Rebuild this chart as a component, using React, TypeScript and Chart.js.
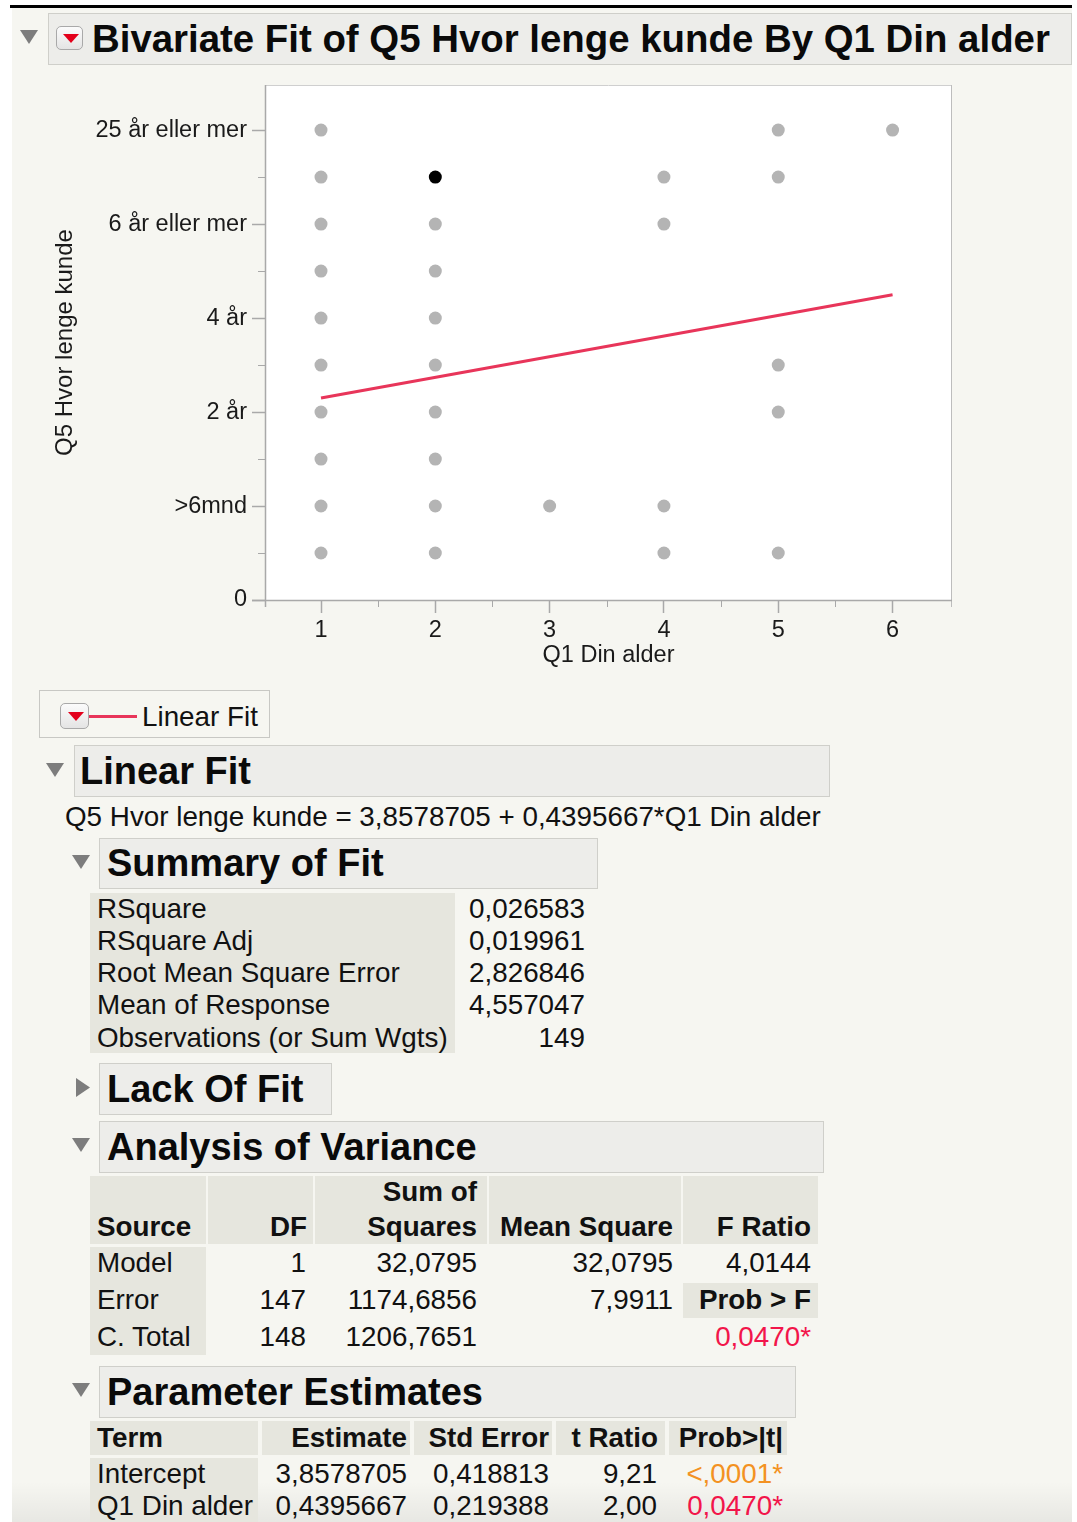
import React, { useEffect, useRef } from "react";
import { Chart, registerables } from "chart.js";

Chart.register(...registerables);

// ---------- data ----------
const AGE_VALUES = [1, 2, 3, 4, 5, 6];
const Q5_AT_AGE1 = [10, 9, 8, 7, 6, 5, 4, 3, 2, 1];
const Q5_AT_AGE2 = [8, 7, 6, 5, 4, 3, 2, 1];
const Q5_AT_AGE3 = [2];
const Q5_AT_AGE4 = [9, 8, 2, 1];
const Q5_AT_AGE5 = [10, 9, 5, 4, 1];
const Q5_AT_AGE6 = [10];
const SELECTED_X = [2];
const SELECTED_Y = [9];
const FIT_LINE_X = [1, 6];
const FIT_LINE_Y = [4.2974, 6.4952];

const X_TICKS = [1, 2, 3, 4, 5, 6];
const X_MINOR = [1.5, 2.5, 3.5, 4.5, 5.5];
const Y_TICKS = [0, 2, 4, 6, 8, 10];
const Y_TICK_LABELS = ["0", ">6mnd", "2 år", "4 år", "6 år eller mer", "25 år eller mer"];
const Y_MINOR = [1, 3, 5, 7, 9];

const SUMMARY_LABELS = ["RSquare", "RSquare Adj", "Root Mean Square Error", "Mean of Response", "Observations (or Sum Wgts)"];
const SUMMARY_VALUES = ["0,026583", "0,019961", "2,826846", "4,557047", "149"];

const ANOVA_SOURCE = ["Model", "Error", "C. Total"];
const ANOVA_DF = ["1", "147", "148"];
const ANOVA_SS = ["32,0795", "1174,6856", "1206,7651"];
const ANOVA_MS = ["32,0795", "7,9911", ""];
const ANOVA_F = "4,0144";
const ANOVA_P = "0,0470*";

const PE_TERMS = ["Intercept", "Q1 Din alder"];
const PE_EST = ["3,8578705", "0,4395667"];
const PE_SE = ["0,418813", "0,219388"];
const PE_T = ["9,21", "2,00"];
const PE_P = ["<,0001*", "0,0470*"];
const PE_P_COLORS = ["#f39222", "#f2154a"];

// ---------- layout helpers ----------
const W = 1077;
const H = 1522;
const FONT = "'Liberation Sans', Arial, Helvetica, sans-serif";
const BG = "#f6f6f1";
const HEAD_BG = "#ededea";
const CELL_BG = "#e6e6de";
const BODY_SIZE = 27.8;

function Txt({ x, y, children, align = "left", bold = false, size = BODY_SIZE, color = "#111" }: any) {
  const lh = Math.round(size * 1.3);
  const style: any = {
    position: "absolute",
    top: y - lh / 2,
    lineHeight: lh + "px",
    fontSize: size,
    fontWeight: bold ? 700 : 400,
    color,
    whiteSpace: "nowrap",
    fontFamily: FONT,
  };
  if (align === "left") style.left = x;
  else style.right = W - x;
  return <div style={style}>{children}</div>;
}

function Box({ x1, y1, x2, y2, bg = "transparent", border }: any) {
  return (
    <div
      style={{
        position: "absolute",
        left: x1,
        top: y1,
        width: x2 - x1,
        height: y2 - y1,
        background: bg,
        border: border ? `1px solid ${border}` : undefined,
        boxSizing: "border-box",
      }}
    />
  );
}

function TriDown({ x, y }: any) {
  return (
    <svg style={{ position: "absolute", left: x, top: y }} width={18} height={14}>
      <polygon points="0,0 18,0 9,14" fill="#7d7d7d" />
    </svg>
  );
}
function TriRight({ x, y }: any) {
  return (
    <svg style={{ position: "absolute", left: x, top: y }} width={14} height={19}>
      <polygon points="0,0 14,9.5 0,19" fill="#7d7d7d" />
    </svg>
  );
}
function RedButton({ x, y, w, h }: any) {
  return (
    <div
      style={{
        position: "absolute",
        left: x,
        top: y,
        width: w,
        height: h,
        borderRadius: 5,
        border: "1px solid #a9a9a9",
        background: "linear-gradient(#fbfbfb, #e4e4e4)",
        boxSizing: "border-box",
      }}
    >
      <svg style={{ position: "absolute", left: w / 2 - 8, top: h / 2 - 5 }} width={16} height={9}>
        <polygon points="0,0 16,0 8,9" fill="#e3001b" />
      </svg>
    </div>
  );
}

function Header({ x1, y1, x2, y2, text, tx, size = 38 }: any) {
  return (
    <>
      <Box x1={x1} y1={y1} x2={x2} y2={y2} bg={HEAD_BG} border="#cfcfca" />
      <Txt x={tx} y={(y1 + y2) / 2} bold size={size} color="#0a0a0a">
        {text}
      </Txt>
    </>
  );
}

// ---------- chart ----------
function ScatterChart() {
  const ref = useRef<HTMLCanvasElement>(null);
  useEffect(() => {
    if (!ref.current) return;
    const groups = [Q5_AT_AGE1, Q5_AT_AGE2, Q5_AT_AGE3, Q5_AT_AGE4, Q5_AT_AGE5, Q5_AT_AGE6];
    const pts: { x: number; y: number }[] = [];
    groups.forEach((g, i) => g.forEach((v) => pts.push({ x: AGE_VALUES[i], y: v })));

    const framePlugin = {
      id: "frame",
      beforeDraw(chart: any) {
        const { ctx, chartArea: a } = chart;
        ctx.save();
        ctx.fillStyle = "#ffffff";
        ctx.fillRect(a.left, a.top, a.right - a.left, a.bottom - a.top);
        ctx.restore();
      },
      beforeDatasetsDraw(chart: any) {
        const { ctx, chartArea: a, scales } = chart;
        ctx.save();
        ctx.lineWidth = 1;
        ctx.strokeStyle = "#cfcfcf";
        ctx.beginPath();
        ctx.moveTo(a.left, Math.round(a.top) + 0.5);
        ctx.lineTo(a.right, Math.round(a.top) + 0.5);
        ctx.stroke();
        ctx.strokeStyle = "#bdbdbd";
        ctx.beginPath();
        ctx.moveTo(Math.round(a.right) - 0.5, a.top);
        ctx.lineTo(Math.round(a.right) - 0.5, a.bottom + 7);
        ctx.stroke();
        ctx.strokeStyle = "#a9a9a9";
        ctx.lineWidth = 1.5;
        ctx.beginPath();
        ctx.moveTo(Math.round(a.left) + 0.5, a.top);
        ctx.lineTo(Math.round(a.left) + 0.5, a.bottom + 7);
        ctx.moveTo(a.left - 13, Math.round(a.bottom) + 0.5);
        ctx.lineTo(a.right, Math.round(a.bottom) + 0.5);
        ctx.stroke();
        ctx.lineWidth = 1;
        ctx.beginPath();
        X_MINOR.forEach((v) => {
          const px = Math.round(scales.x.getPixelForValue(v)) + 0.5;
          ctx.moveTo(px, a.bottom);
          ctx.lineTo(px, a.bottom + 7);
        });
        Y_MINOR.forEach((v) => {
          const py = Math.round(scales.y.getPixelForValue(v)) + 0.5;
          ctx.moveTo(a.left - 7, py);
          ctx.lineTo(a.left, py);
        });
        ctx.stroke();
        ctx.restore();
      },
    };

    const chart = new Chart(ref.current, {
      type: "scatter",
      data: {
        datasets: [
          {
            label: "points",
            data: pts,
            pointRadius: 6.5,
            pointBackgroundColor: "#b4b4b4",
            pointBorderWidth: 0,
            order: 2,
          },
          {
            label: "selected",
            data: SELECTED_X.map((x, i) => ({ x, y: SELECTED_Y[i] })),
            pointRadius: 6.5,
            pointBackgroundColor: "#000000",
            pointBorderWidth: 0,
            order: 1,
          },
          {
            type: "line",
            label: "Linear Fit",
            data: FIT_LINE_X.map((x, i) => ({ x, y: FIT_LINE_Y[i] })),
            borderColor: "#e8355a",
            borderWidth: 3,
            pointRadius: 0,
            fill: false,
            order: 0,
          } as any,
        ],
      },
      options: {
        responsive: false,
        animation: false,
        devicePixelRatio: 1,
        layout: { padding: { left: 0, top: 15, right: 125, bottom: 0 } },
        plugins: { legend: { display: false }, tooltip: { enabled: false } },
        scales: {
          x: {
            type: "linear",
            min: 0.51,
            max: 6.52,
            afterBuildTicks: (s: any) => {
              s.ticks = X_TICKS.map((v) => ({ value: v }));
            },
            afterFit: (s: any) => {
              s.height = 80;
              s.paddingLeft = 0;
              s.paddingRight = 0;
            },
            ticks: {
              autoSkip: false,
              maxRotation: 0,
              padding: 3,
              color: "#1a1a1a",
              font: { family: FONT, size: 23.5 },
              callback: (v: any) => String(v),
            },
            grid: { drawOnChartArea: false, tickLength: 13, tickColor: "#a9a9a9", tickWidth: 1.5 },
            border: { display: false },
            title: {
              display: true,
              text: "Q1 Din alder",
              color: "#1a1a1a",
              font: { family: FONT, size: 23.5 },
              padding: { top: 0, bottom: 10 },
            },
          },
          y: {
            type: "linear",
            min: 0,
            max: 10.96,
            afterBuildTicks: (s: any) => {
              s.ticks = Y_TICKS.map((v) => ({ value: v }));
            },
            afterFit: (s: any) => {
              s.width = 265;
              s.paddingTop = 0;
              s.paddingBottom = 0;
            },
            ticks: {
              autoSkip: false,
              padding: 5,
              color: "#1a1a1a",
              font: { family: FONT, size: 23.5 },
              callback: (v: any) => {
                const i = Y_TICKS.indexOf(Number(v));
                return i >= 0 ? Y_TICK_LABELS[i] : "";
              },
            },
            grid: { drawOnChartArea: false, tickLength: 13, tickColor: "#a9a9a9", tickWidth: 1.5 },
            border: { display: false },
            title: {
              display: true,
              text: "Q5 Hvor lenge kunde",
              color: "#1a1a1a",
              font: { family: FONT, size: 24 },
              padding: { top: 50.6, bottom: 0 },
            },
          },
        },
      },
      plugins: [framePlugin],
    });
    return () => chart.destroy();
  }, []);
  return (
    <canvas
      ref={ref}
      width={W}
      height={610}
      style={{ position: "absolute", left: 0, top: 70, width: W, height: 610 }}
    />
  );
}

// ---------- page ----------
export default function App() {
  const sumRows = [909, 941, 973, 1005, 1038];
  const anovaRows = [1263, 1300, 1337];
  const peRows = [1474, 1506];
  return (
    <div
      style={{
        position: "absolute",
        left: 0,
        top: 0,
        width: W,
        height: H,
        overflow: "hidden",
        background: "#ffffff",
        fontFamily: FONT,
      }}
    >
      <div style={{ position: "absolute", left: 12, top: 8, width: 1060, height: H - 8, background: BG }} />
      <div style={{ position: "absolute", left: 10, top: 5, width: 1062, height: 3, background: "#000" }} />
      <div
        style={{
          position: "absolute",
          left: 12,
          top: H - 40,
          width: 1060,
          height: 40,
          background: "linear-gradient(rgba(0,0,0,0), rgba(0,0,0,0.06))",
        }}
      />

      {/* title */}
      <TriDown x={20} y={30} />
      <Header x1={48} y1={13} x2={1072} y2={65} text="Bivariate Fit of Q5 Hvor lenge kunde By Q1 Din alder" tx={92} size={38.4} />
      <RedButton x={56} y={26} w={27} h={24} />

      <ScatterChart />

      {/* legend */}
      <Box x1={39} y1={690} x2={270} y2={738} border="#c8c8c4" />
      <RedButton x={60} y={703} w={29} h={26} />
      <div style={{ position: "absolute", left: 89, top: 715, width: 48, height: 3, background: "#e8355a" }} />
      <Txt x={142} y={717}>
        Linear Fit
      </Txt>

      {/* Linear Fit */}
      <TriDown x={46} y={763} />
      <Header x1={74} y1={745} x2={830} y2={797} text="Linear Fit" tx={80} />
      <Txt x={65} y={817}>
        Q5 Hvor lenge kunde = 3,8578705 + 0,4395667*Q1 Din alder
      </Txt>

      {/* Summary of Fit */}
      <TriDown x={72} y={855} />
      <Header x1={99} y1={838} x2={598} y2={889} text="Summary of Fit" tx={107} />
      <Box x1={90} y1={893} x2={455} y2={1053} bg={CELL_BG} />
      {SUMMARY_LABELS.map((l, i) => (
        <Txt key={"sl" + i} x={97} y={sumRows[i]}>
          {l}
        </Txt>
      ))}
      {SUMMARY_VALUES.map((v, i) => (
        <Txt key={"sv" + i} x={585} y={sumRows[i]} align="right">
          {v}
        </Txt>
      ))}

      {/* Lack of fit */}
      <TriRight x={76} y={1078} />
      <Header x1={99} y1={1063} x2={332} y2={1115} text="Lack Of Fit" tx={107} />

      {/* ANOVA */}
      <TriDown x={72} y={1138} />
      <Header x1={99} y1={1121} x2={824} y2={1173} text="Analysis of Variance" tx={107} />
      <Box x1={90} y1={1176} x2={206} y2={1244} bg={CELL_BG} />
      <Box x1={208} y1={1176} x2={313} y2={1244} bg={CELL_BG} />
      <Box x1={315} y1={1176} x2={487} y2={1244} bg={CELL_BG} />
      <Box x1={489} y1={1176} x2={681} y2={1244} bg={CELL_BG} />
      <Box x1={683} y1={1176} x2={818} y2={1244} bg={CELL_BG} />
      <Box x1={90} y1={1247} x2={206} y2={1355} bg={CELL_BG} />
      <Box x1={683} y1={1283} x2={818} y2={1318} bg={CELL_BG} />
      <Txt x={97} y={1227} bold>
        Source
      </Txt>
      <Txt x={307} y={1227} bold align="right">
        DF
      </Txt>
      <Txt x={477} y={1192} bold align="right">
        Sum of
      </Txt>
      <Txt x={477} y={1227} bold align="right">
        Squares
      </Txt>
      <Txt x={673} y={1227} bold align="right">
        Mean Square
      </Txt>
      <Txt x={811} y={1227} bold align="right">
        F Ratio
      </Txt>
      {ANOVA_SOURCE.map((s, i) => (
        <React.Fragment key={"a" + i}>
          <Txt x={97} y={anovaRows[i]}>
            {s}
          </Txt>
          <Txt x={306} y={anovaRows[i]} align="right">
            {ANOVA_DF[i]}
          </Txt>
          <Txt x={477} y={anovaRows[i]} align="right">
            {ANOVA_SS[i]}
          </Txt>
          <Txt x={673} y={anovaRows[i]} align="right">
            {ANOVA_MS[i]}
          </Txt>
        </React.Fragment>
      ))}
      <Txt x={811} y={anovaRows[0]} align="right">
        {ANOVA_F}
      </Txt>
      <Txt x={811} y={anovaRows[1]} align="right" bold>
        Prob &gt; F
      </Txt>
      <Txt x={811} y={anovaRows[2]} align="right" color="#f2154a">
        {ANOVA_P}
      </Txt>

      {/* Parameter Estimates */}
      <TriDown x={72} y={1383} />
      <Header x1={99} y1={1366} x2={796} y2={1418} text="Parameter Estimates" tx={107} />
      <Box x1={90} y1={1421} x2={258} y2={1455} bg={CELL_BG} />
      <Box x1={262} y1={1421} x2={410} y2={1455} bg={CELL_BG} />
      <Box x1={414} y1={1421} x2={552} y2={1455} bg={CELL_BG} />
      <Box x1={556} y1={1421} x2={665} y2={1455} bg={CELL_BG} />
      <Box x1={669} y1={1421} x2={787} y2={1455} bg={CELL_BG} />
      <Box x1={90} y1={1458} x2={258} y2={H} bg={CELL_BG} />
      <Txt x={97} y={1438} bold>
        Term
      </Txt>
      <Txt x={407} y={1438} bold align="right">
        Estimate
      </Txt>
      <Txt x={549} y={1438} bold align="right">
        Std Error
      </Txt>
      <Txt x={658} y={1438} bold align="right">
        t Ratio
      </Txt>
      <Txt x={783} y={1438} bold align="right">
        Prob&gt;|t|
      </Txt>
      {PE_TERMS.map((t, i) => (
        <React.Fragment key={"p" + i}>
          <Txt x={97} y={peRows[i]}>
            {t}
          </Txt>
          <Txt x={407} y={peRows[i]} align="right">
            {PE_EST[i]}
          </Txt>
          <Txt x={549} y={peRows[i]} align="right">
            {PE_SE[i]}
          </Txt>
          <Txt x={657} y={peRows[i]} align="right">
            {PE_T[i]}
          </Txt>
          <Txt x={783} y={peRows[i]} align="right" color={PE_P_COLORS[i]}>
            {PE_P[i]}
          </Txt>
        </React.Fragment>
      ))}
    </div>
  );
}
